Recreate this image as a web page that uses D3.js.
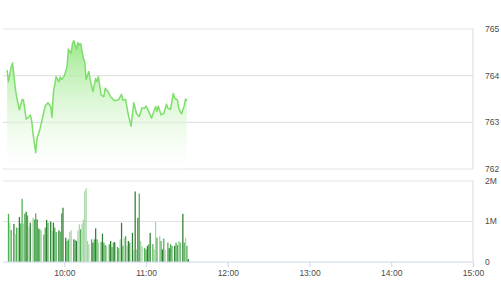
<!DOCTYPE html>
<html>
<head>
    <meta charset="utf-8"/>
    <script src="https://d3js.org/d3.v7.min.js"></script>
    <style>
        body { margin: 0; background: #ffffff; }
        svg { display: block; }
        .lbl { font-family: "Liberation Sans Narrow", "Liberation Sans", sans-serif; font-size: 8.5px; fill: #4a4a4a; }
    </style>
</head>
<body>
<svg id="chart" width="501" height="300"></svg>
<script>
// intraday price
var priceTimes = ["9:18","9:19","9:21","9:22","9:24","9:25","9:27","9:29","9:30","9:32","9:34","9:35","9:36","9:37","9:39","9:40","9:42","9:46","9:48","9:50","9:51","9:52","9:54","9:56","9:57","9:58",
    "10:00","10:02","10:03","10:05","10:06","10:07","10:09","10:10","10:11","10:12","10:14","10:15","10:16","10:18","10:19","10:21","10:23","10:24","10:25","10:27","10:29","10:30","10:32","10:34","10:37","10:40","10:42","10:43","10:45","10:47","10:49","10:51","10:53","10:55","10:57","10:59",
    "11:00","11:02","11:04","11:07","11:08","11:09","11:11","11:13","11:15","11:16","11:18","11:20","11:21","11:23","11:24","11:26","11:28","11:29","11:30"];
var prices = [764.12,763.87,764.19,764.27,763.74,763.55,763.27,763.49,763.48,763.07,763.12,763.16,763.05,762.77,762.35,762.66,762.84,763.35,763.42,763.34,763.11,763.64,763.98,763.87,763.97,763.92,
    763.99,764.19,764.57,764.48,764.69,764.75,764.57,764.71,764.66,764.69,764.37,764.30,763.92,764.09,763.91,763.66,763.94,763.87,763.98,763.59,763.55,763.73,763.66,763.55,763.46,763.49,763.60,763.48,763.49,763.16,762.92,763.42,763.19,763.12,763.31,763.30,
    763.35,763.23,763.09,763.34,763.23,763.35,763.16,763.19,763.39,763.30,763.28,763.62,763.52,763.48,763.30,763.18,763.35,763.50,763.46];

// matched volume per minute (millions) and trade side
var volTimes = ["9:19","9:20","9:21","9:23","9:24","9:25","9:26","9:27","9:28","9:29","9:30","9:31","9:32","9:33","9:34","9:35","9:37","9:38","9:39","9:40","9:41","9:42","9:43","9:45","9:46","9:47","9:48","9:50","9:51","9:52","9:53","9:54","9:56","9:57","9:58","9:59",
    "10:01","10:02","10:03","10:04","10:05","10:07","10:08","10:09","10:10","10:11","10:12","10:13","10:14","10:15","10:16","10:17","10:18","10:20","10:21","10:22","10:23","10:24","10:25","10:27","10:28","10:29","10:30","10:31","10:33","10:34","10:35","10:36","10:37","10:39","10:40","10:41","10:42","10:43","10:44","10:45","10:46","10:47","10:48","10:50","10:51","10:52","10:53","10:54","10:55","10:56","10:57","10:59",
    "11:00","11:01","11:02","11:03","11:05","11:06","11:07","11:08","11:10","11:11","11:12","11:13","11:14","11:16","11:17","11:18","11:19","11:21","11:22","11:23","11:24","11:25","11:27","11:28","11:29","11:30","11:31"];
var volumes = [1.19,0.97,0.79,0.94,0.69,0.85,0.84,1.11,0.95,1.56,0.95,1.19,1.24,1.15,0.86,0.97,1.09,1.05,1.20,1.05,0.83,0.81,0.78,0.68,0.85,1.04,0.97,1.00,0.77,0.97,0.85,0.74,0.78,0.75,1.20,1.34,
    0.60,0.52,0.56,0.74,0.78,0.56,0.54,0.52,0.77,0.93,0.81,0.95,1.05,1.75,1.82,0.52,0.44,0.56,0.48,0.56,0.83,0.56,0.48,0.50,0.70,0.48,0.42,0.40,0.44,0.52,0.37,0.48,0.49,0.37,0.34,0.56,0.97,0.40,0.60,0.64,0.40,0.52,0.48,0.72,0.31,1.74,0.31,1.09,1.69,0.52,0.40,0.35,
    0.31,0.40,0.44,0.72,0.44,0.31,0.99,0.60,0.64,0.52,0.31,0.58,0.30,0.48,0.34,0.44,0.40,0.40,0.48,0.42,0.52,0.48,1.19,0.48,0.60,0.40,0.07];
var volSide = ["m","l","m","d","l","m","l","d","m","m","l","m","d","m","l","d","l","m","m","d","m","m","l","m","m","d","m","d","l","d","m","m","d","m","m","d",
    "d","m","m","l","l","d","m","d","l","l","m","l","l","l","l","l","l","m","d","m","d","m","l","m","d","m","m","l","m","d","m","m","d","m","m","l","d","m","l","m","l","d","m","d","l","d","l","d","m","l","l","m",
    "m","d","m","d","m","l","l","m","l","m","d","m","l","m","d","m","m","d","m","m","l","m","d","m","l","m","d"];

var priceTicks = [762, 763, 764, 765];
var volTicks = [0, 1, 2];
var timeTicks = ["10:00","11:00","12:00","13:00","14:00","15:00"];

function toMin(s) { var p = s.split(":"); return +p[0] * 60 + +p[1]; }

var svg = d3.select("#chart");
var left = 3, right = 473;

var x = d3.scaleLinear().domain([toMin("9:15"), toMin("15:00")]).range([left, right]);
var yP = d3.scaleLinear().domain([762, 765]).range([169, 29]);
var yV = d3.scaleLinear().domain([0, 2]).range([262, 181]);
var sideColor = d3.scaleOrdinal().domain(["d","m","l"]).range(["#2e7d32","#4caf50","#a5d6a7"]);

// gradient for the price area
var grad = svg.append("defs").append("linearGradient")
    .attr("id", "pg").attr("gradientUnits", "userSpaceOnUse")
    .attr("x1", 0).attr("x2", 0).attr("y1", yP(764.8)).attr("y2", yP(762));
grad.append("stop").attr("offset", 0).attr("stop-color", "#9ae888").attr("stop-opacity", 1);
grad.append("stop").attr("offset", 1).attr("stop-color", "#ffffff").attr("stop-opacity", 0.3);

// grid lines
svg.append("g").selectAll("line").data(priceTicks).enter().append("line")
    .attr("x1", left).attr("x2", right)
    .attr("y1", function (d) { return yP(d); }).attr("y2", function (d) { return yP(d); })
    .attr("stroke", "#e3e3e3").attr("stroke-width", 1.2);
svg.append("g").selectAll("line").data(volTicks.filter(function (d) { return d > 0; })).enter().append("line")
    .attr("x1", left).attr("x2", right)
    .attr("y1", function (d) { return yV(d); }).attr("y2", function (d) { return yV(d); })
    .attr("stroke", "#e3e3e3").attr("stroke-width", 1.2);

// right borders
svg.append("line").attr("x1", right).attr("x2", right).attr("y1", yP(765)).attr("y2", yP(762))
    .attr("stroke", "#d5dde9").attr("stroke-width", 1);
svg.append("line").attr("x1", right).attr("x2", right).attr("y1", yV(2)).attr("y2", yV(0))
    .attr("stroke", "#d5dde9").attr("stroke-width", 1);

// price area + line
var pts = priceTimes.map(function (t, i) { return [toMin(t), prices[i]]; });
var area = d3.area().x(function (d) { return x(d[0]); }).y0(yP(762)).y1(function (d) { return yP(d[1]); });
var line = d3.line().x(function (d) { return x(d[0]); }).y(function (d) { return yP(d[1]); });
svg.append("path").datum(pts).attr("d", area).attr("fill", "url(#pg)");
svg.append("path").datum(pts).attr("d", line).attr("fill", "none")
    .attr("stroke", "#7ddf6a").attr("stroke-width", 1.5).attr("stroke-linejoin", "round");

// volume bars
svg.append("g").selectAll("rect").data(volTimes).enter().append("rect")
    .attr("x", function (t) { return x(toMin(t)) - 0.6; })
    .attr("width", 1.25)
    .attr("y", function (t, i) { return yV(volumes[i]); })
    .attr("height", function (t, i) { return yV(0) - yV(volumes[i]); })
    .attr("fill", function (t, i) { return sideColor(volSide[i]); });

// x axis
var axX = d3.axisBottom(x).tickValues(timeTicks.map(toMin)).tickSize(5).tickPadding(3)
    .tickFormat(function (d) { return timeTicks[timeTicks.map(toMin).indexOf(d)]; });
var gx = svg.append("g").attr("transform", "translate(0," + yV(0) + ")").call(axX);
gx.select(".domain").attr("stroke", "#ccd6eb").attr("d", "M" + left + ",0H" + right);
gx.selectAll(".tick line").attr("stroke", "#ccd6eb");
gx.selectAll(".tick text").attr("class", "lbl").attr("fill", null);

// right labels
svg.append("g").selectAll("text").data(priceTicks).enter().append("text")
    .attr("class", "lbl").attr("x", 485).attr("y", function (d) { return yP(d); })
    .attr("dy", "0.35em").text(function (d) { return d; });
svg.append("g").selectAll("text").data(volTicks).enter().append("text")
    .attr("class", "lbl").attr("x", 485).attr("y", function (d) { return yV(d); })
    .attr("dy", "0.35em").text(function (d) { return d === 0 ? "0" : d + "M"; });
</script>
</body>
</html>
